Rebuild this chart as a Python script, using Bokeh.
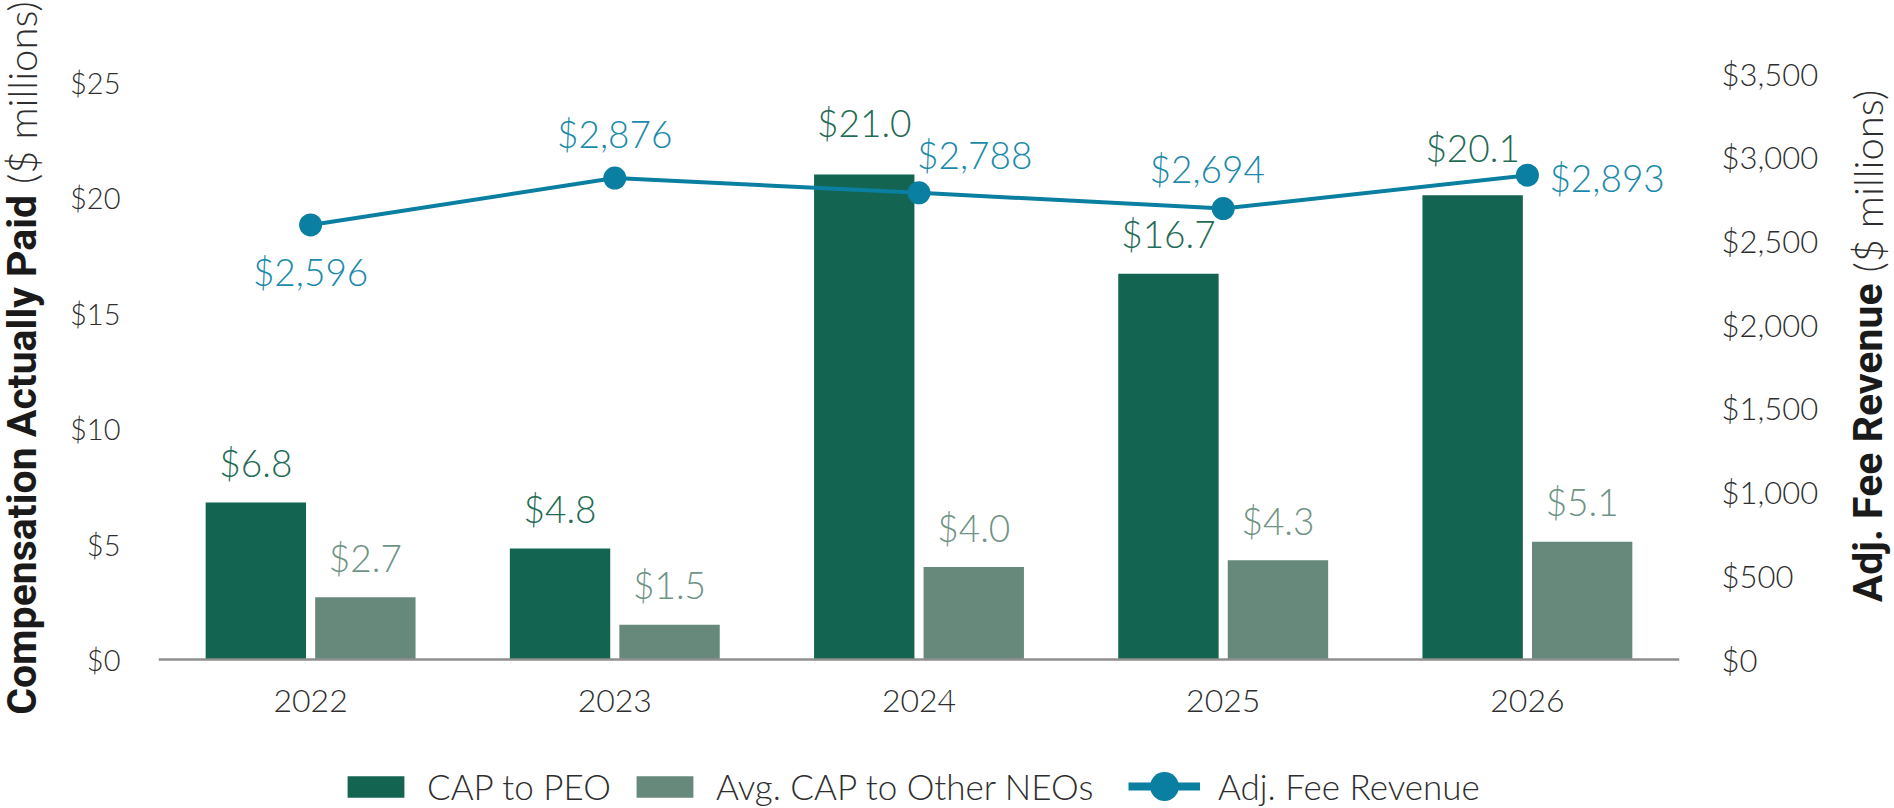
from bokeh.plotting import figure
from bokeh.layouts import row
from bokeh.models import (ColumnDataSource, FactorRange, Range1d, LinearAxis, FixedTicker,
                          NumeralTickFormatter, Legend, LegendItem, Div)
from bokeh.transform import dodge
from bokeh.core.properties import value
from bokeh.embed import file_html
from bokeh.resources import INLINE

# ---------------- data ----------------
years = ["2022", "2023", "2024", "2025", "2026"]
cap_peo = [6.8, 4.8, 21.0, 16.7, 20.1]            # CAP to PEO ($ millions)
cap_other_neos = [2.7, 1.5, 4.0, 4.3, 5.1]        # Avg. CAP to Other NEOs ($ millions)
adj_fee_revenue = [2596, 2876, 2788, 2694, 2893]  # Adj. Fee Revenue ($ millions)
left_ticks = [0, 5, 10, 15, 20, 25]
right_ticks = [0, 500, 1000, 1500, 2000, 2500, 3000, 3500]

# ---------------- styles ----------------
LIGHT = "Lato Light"
C_PEO = "#136551"
C_NEO = "#66897b"
C_LINE = "#0a7fa2"
C_PEO_TXT = "#1f6b55"
C_NEO_TXT = "#6f9385"
C_LINE_TXT = "#1a8aab"
C_AXIS_TXT = "#2e2e2e"

H = 808
W_LEFT, W_RIGHT = 52, 46
W_FIG = 1892 - W_LEFT - W_RIGHT

# label placement (style, not data)
peo_dy = [-40, -40, -52, -40, -48]
rev_align = ["center", "center", "left", "center", "left"]
rev_dx = [0, 0, -2, -16, 22]
rev_dy = [47, -45, -38, -40, 2]

src = ColumnDataSource(dict(
    year=years, peo=cap_peo, neo=cap_other_neos, rev=adj_fee_revenue,
    peo_lbl=[f"${v:.1f}" for v in cap_peo],
    neo_lbl=[f"${v:.1f}" for v in cap_other_neos],
    rev_lbl=[f"${v:,}" for v in adj_fee_revenue],
    peo_dy=peo_dy, align=rev_align, dx=rev_dx, dy=rev_dy,
))

# frame: x 158..1679, y 40..808 ; value 0 at y=659, 23.1 px per $1M
ZERO_Y = 659
PX_PER_UNIT = 23.1
y_end = (ZERO_Y - 40) / PX_PER_UNIT
y_start = -(H - ZERO_Y) / PX_PER_UNIT
RATIO = 138.0  # right-axis dollars per left-axis dollar

p = figure(width=W_FIG, height=H,
           x_range=FactorRange(*years, range_padding=0),
           y_range=Range1d(y_start, y_end),
           output_backend="svg", toolbar_location=None,
           min_border_left=158 - W_LEFT, min_border_right=W_LEFT + W_FIG - 1679,
           min_border_top=40, min_border_bottom=0)
p.extra_y_ranges = {"rev": Range1d(y_start * RATIO, y_end * RATIO),
                    # range used only by the legend key proxy, lies far outside the frame
                    "offframe": Range1d(-1e7, -1e7 + 1)}

p.xgrid.grid_line_color = None
p.ygrid.grid_line_color = None
p.outline_line_color = None

# left axis
ly = p.yaxis[0]
ly.ticker = FixedTicker(ticks=left_ticks)
ly.formatter = NumeralTickFormatter(format="$0")
ly.axis_line_color = None
ly.major_tick_line_color = None
ly.minor_tick_line_color = None
ly.major_tick_out = 0
ly.major_tick_in = 0
ly.major_label_standoff = 38
ly.major_label_text_font = LIGHT
ly.major_label_text_font_size = "29px"
ly.major_label_text_color = C_AXIS_TXT

# right axis
ry = LinearAxis(y_range_name="rev", ticker=FixedTicker(ticks=right_ticks),
                formatter=NumeralTickFormatter(format="$0,0"))
ry.axis_line_color = None
ry.major_tick_line_color = None
ry.minor_tick_line_color = None
ry.major_tick_out = 0
ry.major_tick_in = 0
ry.major_label_standoff = 42
ry.major_label_text_font = LIGHT
ry.major_label_text_font_size = "31px"
ry.major_label_text_color = C_AXIS_TXT
p.add_layout(ry, "right")

# x axis, drawn at value 0
xa = p.xaxis[0]
xa.fixed_location = 0
xa.axis_line_color = "#8f8f8f"
xa.axis_line_width = 2.5
xa.major_tick_line_color = None
xa.minor_tick_line_color = None
xa.major_tick_out = 0
xa.major_tick_in = 0
xa.major_label_standoff = 30
xa.major_label_text_font = LIGHT
xa.major_label_text_font_size = "32px"
xa.major_label_text_color = C_AXIS_TXT

# bars
r_peo = p.vbar(x=dodge("year", -0.18, range=p.x_range), top="peo", width=0.33,
               source=src, fill_color=C_PEO, line_color=None)
r_neo = p.vbar(x=dodge("year", 0.18, range=p.x_range), top="neo", width=0.33,
               source=src, fill_color=C_NEO, line_color=None)

p.text(x=dodge("year", -0.18, range=p.x_range), y="peo", text="peo_lbl", source=src,
       text_align="center", text_baseline="alphabetic", y_offset="peo_dy",
       text_font=value(LIGHT), text_font_size="37px", text_color=C_PEO_TXT)
p.text(x=dodge("year", 0.18, range=p.x_range), y="neo", text="neo_lbl", source=src,
       text_align="center", text_baseline="alphabetic", y_offset=-40,
       text_font=value(LIGHT), text_font_size="37px", text_color=C_NEO_TXT)

# revenue line
r_line = p.line(x="year", y="rev", y_range_name="rev", source=src, line_color=C_LINE, line_width=4)
r_dots = p.scatter(x="year", y="rev", y_range_name="rev", source=src, size=23,
                   fill_color=C_LINE, line_color=None)
p.text(x="year", y="rev", y_range_name="rev", text="rev_lbl", source=src,
       text_align="align", text_baseline="alphabetic", x_offset="dx", y_offset="dy",
       text_font=value(LIGHT), text_font_size="37px", text_color=C_LINE_TXT)

# legend key proxy: same series on an off-frame range, so only its legend key shows
r_key = p.line(x="year", y="rev", y_range_name="offframe", source=src,
               line_color=C_LINE, line_width=8)

leg_common = dict(orientation="horizontal", padding=0, margin=0, border_line_color=None,
                  background_fill_alpha=0, label_text_font=LIGHT,
                  label_text_font_size="35px", label_text_color=C_AXIS_TXT)
leg_bars = Legend(items=[LegendItem(label="CAP to PEO", renderers=[r_peo]),
                         LegendItem(label="Avg. CAP to Other NEOs", renderers=[r_neo])],
                  location=(182, 1), glyph_width=71, glyph_height=27,
                  label_standoff=16, spacing=18, **leg_common)
leg_line = Legend(items=[LegendItem(label="Adj. Fee Revenue",
                                    renderers=[r_key, r_dots])],
                  location=(970, -16), glyph_width=72, glyph_height=76,
                  label_standoff=18, spacing=0, **leg_common)
p.add_layout(leg_bars)
p.add_layout(leg_line)


def vertical_title(bold, light, width, center_x, center_y):
    html = (
        f'<div style="position:relative;width:{width}px;height:{H}px;">'
        f'<div style="position:absolute;left:{center_x}px;top:{center_y}px;'
        'transform:translate(-50%,-50%) rotate(180deg);writing-mode:vertical-rl;'
        'white-space:nowrap;line-height:42px;">'
        f'<span style="font-family:Roboto;font-weight:700;font-size:41px;color:#1a1a1a;">{bold}</span>'
        f'<span style="font-family:\'Lato Light\',Lato;font-weight:300;font-size:40px;color:{C_AXIS_TXT};">'
        f'&nbsp;{light}</span></div></div>'
    )
    return Div(text=html, width=width, height=H, margin=(0, 0, 0, 0))


left_title = vertical_title("Compensation Actually Paid", "($ millions)", W_LEFT, 22, 358)
right_title = vertical_title("Adj. Fee Revenue", "($ millions)", W_RIGHT, 22, 346)

layout = row(left_title, p, right_title, spacing=0)
open("out.html", "w").write(file_html(layout, INLINE))
